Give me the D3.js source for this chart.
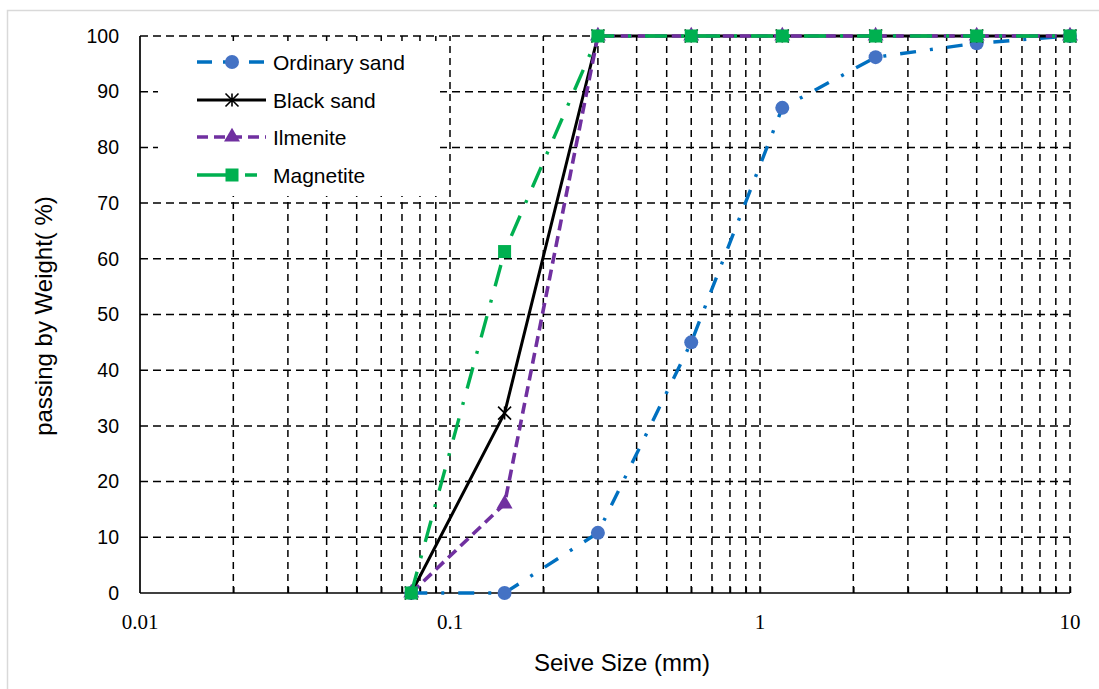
<!DOCTYPE html>
<html>
<head>
<meta charset="utf-8">
<script src="https://cdn.jsdelivr.net/npm/d3@7"></script>
<style>
  html, body { margin: 0; padding: 0; background: #fff; }
  svg { display: block; }
</style>
</head>
<body>
<svg id="chart" width="1099" height="689"></svg>
<script>
// Sieve sizes (mm) and percent passing for each material
const sieveSizes = [0.075, 0.15, 0.3, 0.6, 1.18, 2.36, 5, 10];
const ordinarySand = [0, 0, 10.8, 45, 87.1, 96.2, 98.7, 100];
const blackSand    = [0, 32.3, 100, 100, 100, 100, 100, 100];
const ilmenite     = [0, 16, 100, 100, 100, 100, 100, 100];
const magnetite    = [0, 61.3, 100, 100, 100, 100, 100, 100];

const seriesNames = ["Ordinary sand", "Black sand", "Ilmenite", "Magnetite"];
const yTicks = [0, 10, 20, 30, 40, 50, 60, 70, 80, 90, 100];
const xTickLabels = [0.01, 0.1, 1, 10];

const svg = d3.select("#chart");
const W = 1099, H = 689;
const m = { left: 140, right: 1070, top: 36, bottom: 593 };

// outer chart-area frame
svg.append("rect").attr("x", 7.5).attr("y", 10.5).attr("width", W + 10).attr("height", H + 10)
  .attr("fill", "#fff").attr("stroke", "#d9d9d9").attr("stroke-width", 1.5);

const x = d3.scaleLog().domain([0.01, 10]).range([m.left, m.right]);
const y = d3.scaleLinear().domain([0, 100]).range([m.bottom, m.top]);

// vertical gridlines at every 1..9 × decade
const gridX = [];
for (let e = -2; e <= 0; e++) {
  for (let k = 1; k <= 9; k++) {
    const v = k * Math.pow(10, e);
    if (v > 0.01) gridX.push(+v.toPrecision(3));
  }
}
gridX.push(10);

const grid = svg.append("g");
grid.selectAll("line.gx").data(gridX).join("line")
  .attr("x1", d => x(d)).attr("x2", d => x(d))
  .attr("y1", y(0)).attr("y2", y(100))
  .attr("stroke", "#000").attr("stroke-width", 1.5)
  .attr("stroke-dasharray", "7,5");
grid.selectAll("line.gy").data(yTicks.filter(d => d > 0)).join("line")
  .attr("x1", x(0.01)).attr("x2", x(10))
  .attr("y1", d => y(d)).attr("y2", d => y(d))
  .attr("stroke", "#000").attr("stroke-width", 1.5)
  .attr("stroke-dasharray", "8,5");

// legend background (hides gridlines beneath)
svg.append("rect").attr("x", 158).attr("y", 41).attr("width", 282).attr("height", 155)
  .attr("fill", "#fff");

// axes
const yAxis = d3.axisLeft(y).tickValues(yTicks).tickSize(0).tickPadding(21).tickFormat(d3.format("d"));
const gy = svg.append("g").attr("transform", `translate(${m.left},0)`).call(yAxis);
gy.select(".domain").attr("stroke", "#000").attr("stroke-width", 1.7).attr("d", `M0,${m.top}V${m.bottom}`);
gy.selectAll(".tick text").attr("font-family", "'Liberation Sans', Arial, sans-serif")
  .attr("font-size", 19.5).attr("fill", "#000");

const xAxis = d3.axisBottom(x).tickValues(gridX).tickSize(-6).tickFormat("");
const gx = svg.append("g").attr("transform", `translate(0,${m.bottom})`).call(xAxis);
gx.select(".domain").attr("stroke", "#000").attr("stroke-width", 1.7).attr("d", `M${m.left},0H${m.right}`);
gx.selectAll(".tick line").attr("stroke", "#000").attr("stroke-width", 1.5);

svg.append("g").selectAll("text").data(xTickLabels).join("text")
  .attr("x", d => x(d)).attr("y", 629)
  .attr("text-anchor", "middle")
  .attr("font-family", "'Liberation Serif', 'Times New Roman', serif")
  .attr("font-size", 21).attr("fill", "#000")
  .text(d => String(d));

// axis titles
svg.append("text").attr("x", 622).attr("y", 671).attr("text-anchor", "middle")
  .attr("font-family", "'Liberation Sans', Arial, sans-serif").attr("font-size", 24)
  .attr("fill", "#000").text("Seive Size (mm)");
svg.append("text").attr("transform", "translate(52,316) rotate(-90)").attr("text-anchor", "middle")
  .attr("font-family", "'Liberation Sans', Arial, sans-serif").attr("font-size", 24)
  .attr("fill", "#000").text("passing by Weight( %)");

// series styles
const styles = [
  { name: seriesNames[0], values: ordinarySand, stroke: "#0070C0", width: 3.4, dash: "16,14,3,14", marker: "circle", fill: "#4472C4" },
  { name: seriesNames[1], values: blackSand, stroke: "#000000", width: 3, dash: null, marker: "asterisk", fill: "#000000" },
  { name: seriesNames[2], values: ilmenite, stroke: "#7030A0", width: 3.6, dash: "11,6", marker: "triangle", fill: "#7030A0" },
  { name: seriesNames[3], values: magnetite, stroke: "#00B050", width: 3.4, dash: "22,14,3,14", marker: "square", fill: "#00B050" }
];

const line = d3.line().x(d => x(d[0])).y(d => y(d[1]));

function drawMarker(g, type, cx, cy, fill) {
  if (type === "circle") {
    g.append("circle").attr("cx", cx).attr("cy", cy).attr("r", 7).attr("fill", fill);
  } else if (type === "square") {
    g.append("rect").attr("x", cx - 6.5).attr("y", cy - 6.5).attr("width", 13).attr("height", 13).attr("fill", fill);
  } else if (type === "triangle") {
    g.append("path").attr("d", d3.symbol(d3.symbolTriangle, 110)()).attr("transform", `translate(${cx},${cy})`).attr("fill", fill);
  } else if (type === "asterisk") {
    const s = 6.5;
    const p = `M${cx - s},${cy - s}L${cx + s},${cy + s}M${cx - s},${cy + s}L${cx + s},${cy - s}M${cx},${cy - s}L${cx},${cy + s}`;
    g.append("path").attr("d", p).attr("stroke", fill).attr("stroke-width", 1.6).attr("fill", "none");
  }
}

const plot = svg.append("g");
styles.forEach(s => {
  const pts = sieveSizes.map((v, i) => [v, s.values[i]]);
  const g = plot.append("g");
  g.append("path").datum(pts).attr("d", line)
    .attr("fill", "none").attr("stroke", s.stroke).attr("stroke-width", s.width)
    .attr("stroke-dasharray", s.dash).attr("stroke-linejoin", "round");
  pts.forEach(p => drawMarker(g, s.marker, x(p[0]), y(p[1]), s.fill));
});

// legend
const legend = svg.append("g");
const legendRows = [62, 100, 137, 175];
const legendDash = ["15,11,0,0", null, "11,6", "36,12,12,12"];
styles.forEach((s, i) => {
  const ly = legendRows[i];
  const g = legend.append("g");
  g.append("line").attr("x1", 197).attr("x2", 266).attr("y1", ly).attr("y2", ly)
    .attr("stroke", s.stroke).attr("stroke-width", s.width)
    .attr("stroke-dasharray", legendDash[i]);
  drawMarker(g, s.marker, 232, ly, s.fill);
  g.append("text").attr("x", 273).attr("y", ly + 7.5)
    .attr("font-family", "'Liberation Sans', Arial, sans-serif").attr("font-size", 21)
    .attr("fill", "#000").text(s.name);
});
</script>
</body>
</html>
